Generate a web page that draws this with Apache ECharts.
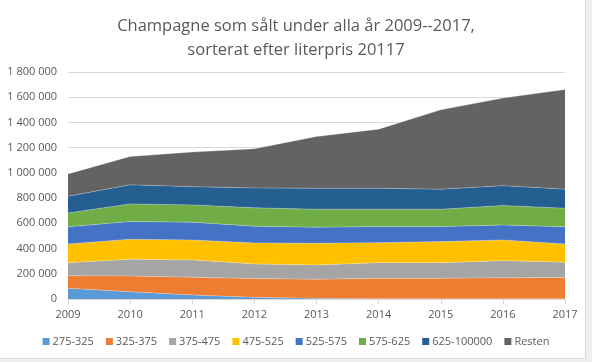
<!DOCTYPE html>
<html>
<head>
<meta charset="utf-8">
<script src="https://cdn.jsdelivr.net/npm/echarts@6/dist/echarts.min.js"></script>
<style>
html,body{margin:0;padding:0;background:#efefef;}
#wrap{position:relative;width:592px;height:362px;}
#bg{position:absolute;left:0;top:0;width:585px;height:358px;background:#fff;border-right:1px solid #d9d9d9;border-bottom:1px solid #d9d9d9;}
#c{position:absolute;left:0;top:0;width:592px;height:362px;}
</style>
</head>
<body>
<div id="wrap"><div id="bg"></div><div id="c"></div></div>
<script>
const years = ['2009','2010','2011','2012','2013','2014','2015','2016','2017'];
const seriesNames = ['275-325','325-375','375-475','475-525','525-575','575-625','625-100000','Resten'];
const s275 = [85000, 58000, 32000, 13000, 5000, 2000, 1000, 1000, 1000];
const s325 = [100000, 125000, 140000, 149000, 151000, 162000, 163000, 168000, 169000];
const s375 = [102000, 132000, 138000, 116000, 114000, 124000, 124000, 135000, 122000];
const s475 = [150000, 159000, 158000, 167000, 172000, 159000, 167000, 164000, 145000];
const s525 = [135000, 140000, 141000, 132000, 127000, 127000, 119000, 119000, 135000];
const s575 = [110000, 140000, 137000, 146000, 143000, 138000, 138000, 154000, 148000];
const s625 = [133000, 151000, 145000, 158000, 166000, 166000, 159000, 158000, 151000];
const sRest = [177000, 225000, 274000, 310000, 410000, 469000, 629000, 694000, 791000];
const yTicks = [0, 200000, 400000, 600000, 800000, 1000000, 1200000, 1400000, 1600000, 1800000];

const allData = [s275, s325, s375, s475, s525, s575, s625, sRest];
const colors = ['#5B9BD5','#ED7D31','#A5A5A5','#FFC000','#4472C4','#70AD47','#255E91','#636363'];
const font = 'Open Sans';

const chart = echarts.init(document.getElementById('c'), null, {renderer:'canvas'});
chart.setOption({
  animation: false,
  color: colors,
  title: {
    text: 'Champagne som sålt under alla år 2009--2017,\nsorterat efter literpris 20117',
    left: 'center',
    top: 9,
    textStyle: {fontFamily: font, fontSize: 16.5, fontWeight: 'normal', color: '#595959', lineHeight: 24}
  },
  legend: {
    bottom: 10,
    left: 'center',
    itemWidth: 7,
    itemHeight: 7,
    itemGap: 12,
    icon: 'rect',
    textStyle: {fontFamily: font, fontSize: 11, color: '#595959', padding: [0,0,0,-2]},
    data: seriesNames
  },
  grid: {left: 68, right: 27, top: 72, bottom: 63, containLabel: false},
  xAxis: {
    type: 'category',
    data: years,
    boundaryGap: false,
    axisLine: {lineStyle: {color: '#d9d9d9'}},
    axisTick: {show: true, lineStyle: {color: '#d9d9d9'}, length: 5},
    axisLabel: {fontFamily: font, fontSize: 11, color: '#595959', margin: 10}
  },
  yAxis: {
    type: 'value',
    min: 0,
    max: yTicks[yTicks.length-1],
    interval: yTicks[1] - yTicks[0],
    axisLine: {show: false},
    axisTick: {show: false},
    splitLine: {lineStyle: {color: '#d9d9d9'}},
    axisLabel: {
      fontFamily: font, fontSize: 11, color: '#595959', margin: 11,
      formatter: v => String(v).replace(/\B(?=(\d{3})+(?!\d))/g, ' ')
    }
  },
  series: allData.map((d, i) => ({
    name: seriesNames[i],
    type: 'line',
    stack: 'total',
    data: d,
    showSymbol: false,
    symbol: 'none',
    lineStyle: {width: 0.6, color: 'rgba(255,255,255,0.45)'},
    areaStyle: {color: colors[i], opacity: 1},
    itemStyle: {color: colors[i]}
  }))
});
</script>
</body>
</html>
